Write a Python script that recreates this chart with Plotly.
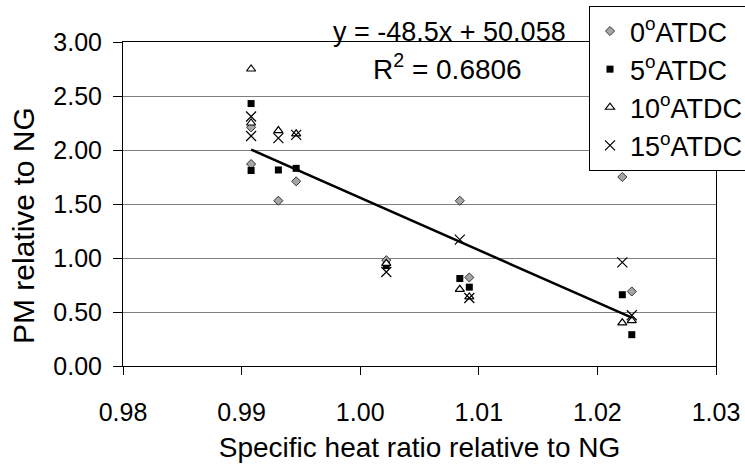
import plotly.graph_objects as go

# ---- data ----
heat_ratio = [0.9908, 0.9908, 0.9931, 0.9946, 1.0022, 1.0084, 1.0092, 1.0221, 1.0229]
pm_0 = [2.21, 1.87, 1.53, 1.71, 0.98, 1.53, 0.82, 1.75, 0.69]
pm_5 = [2.43, 1.81, 1.815, 1.83, 0.93, 0.81, 0.73, 0.66, 0.29]
pm_10 = [2.75, 2.25, 2.18, 2.15, 0.95, 0.71, 0.64, 0.40, 0.42]
pm_15 = [2.31, 2.13, 2.11, 2.14, 0.87, 1.17, 0.63, 0.96, 0.47]
series_names = ["0<sup>o</sup>ATDC", "5<sup>o</sup>ATDC", "10<sup>o</sup>ATDC", "15<sup>o</sup>ATDC"]
trend_slope = -48.5
trend_intercept = 50.058
r_squared = 0.6806
x_ticks = [0.98, 0.99, 1.00, 1.01, 1.02, 1.03]
y_ticks = [0.0, 0.5, 1.0, 1.5, 2.0, 2.5, 3.0]
x_title = "Specific heat ratio relative to NG"
y_title = "PM relative to NG"

FONT = "Liberation Sans, Arial, sans-serif"

fig = go.Figure()

marker_styles = [
    dict(symbol="diamond", size=7, color="#A6A6A6", line=dict(color="#333333", width=1)),
    dict(symbol="square", size=7, color="black", line=dict(color="black", width=0)),
    dict(symbol="triangle-up", size=8, color="white", line=dict(color="black", width=1.2)),
    dict(symbol="x-thin", size=10, color="black", line=dict(color="black", width=1.2)),
]

for i, (name, ys, ms) in enumerate(zip(series_names, [pm_0, pm_5, pm_10, pm_15], marker_styles)):
    fig.add_trace(go.Scatter(
        x=heat_ratio, y=ys, mode="markers", name=name, marker=ms,
        legendgroup=f"g{i}",
    ))

# linear trendline from the fitted equation
x_lo, x_hi = min(heat_ratio), max(heat_ratio)
fig.add_trace(go.Scatter(
    x=[x_lo, x_hi],
    y=[trend_slope * x_lo + trend_intercept, trend_slope * x_hi + trend_intercept],
    mode="lines", line=dict(color="black", width=2.5), showlegend=False, hoverinfo="skip",
))

fig.add_annotation(
    xref="paper", yref="paper", x=0.5514, y=1.032, xanchor="center", yanchor="middle",
    text=f"y = {trend_slope}x + {trend_intercept}", showarrow=False,
    font=dict(family=FONT, size=27, color="black"),
)
fig.add_annotation(
    xref="paper", yref="paper", x=0.5464, y=0.922, xanchor="center", yanchor="middle",
    text=f"R<sup>2</sup> = {r_squared}", showarrow=False,
    font=dict(family=FONT, size=28, color="black"),
)
# y-axis title (placed as in the reference, slightly below plot centre)
fig.add_annotation(
    xref="paper", yref="paper", x=(23 - 123) / 593, y=(366 - 226) / 324,
    xanchor="center", yanchor="middle", textangle=-90,
    text=y_title, showarrow=False,
    font=dict(family=FONT, size=30, color="black"),
)

fig.update_layout(
    width=745, height=467,
    margin=dict(l=123, r=29, t=42, b=101, autoexpand=False),
    paper_bgcolor="white", plot_bgcolor="white",
    font=dict(family=FONT, size=25, color="black"),
    showlegend=True,
    legend=dict(
        xref="container", yref="container",
        x=589 / 745, y=1 - 6 / 467, xanchor="left", yanchor="top",
        bgcolor="white", bordercolor="black", borderwidth=1,
        font=dict(family=FONT, size=27, color="black"),
        tracegroupgap=0,
    ),
    xaxis=dict(
        range=[0.98, 1.03], tickvals=x_ticks, tickformat=".2f",
        ticks="outside", ticklen=8, tickcolor="black",
        showline=True, linecolor="black", linewidth=1, mirror=True,
        showgrid=False, zeroline=False, automargin=False,
        tickfont=dict(size=25),
        title=dict(text=x_title, font=dict(size=28), standoff=12),
        ticklabelstandoff=16,
    ),
    yaxis=dict(
        range=[0, 3.0], tickvals=y_ticks, tickformat=".2f",
        ticks="outside", ticklen=9, tickcolor="black",
        showline=True, linecolor="black", linewidth=1, mirror=True,
        showgrid=True, gridcolor="#808080", gridwidth=1, zeroline=False, automargin=False,
        tickfont=dict(size=25),
        ticklabelstandoff=6,
    ),
)

fig.write_html(
    "out.html",
    config={"displayModeBar": False},
    post_script="document.body.style.margin='0px';",
)
